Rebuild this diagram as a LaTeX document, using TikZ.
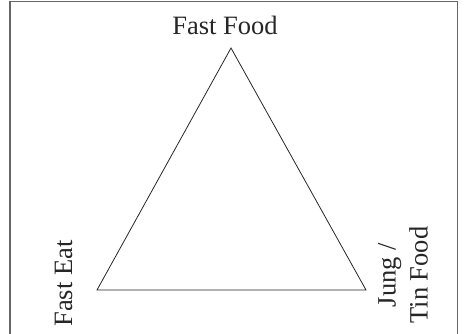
\documentclass[tikz,border=0pt]{standalone}
\usepackage{fontspec}
\setmainfont{Liberation Serif}
\begin{document}
\begin{tikzpicture}[x=1pt,y=-1pt,
  lbl/.style={font=\fontsize{26.5}{32}\selectfont, inner sep=0pt, text=black!85},
  edge/.style={draw=black!85, line width=0.8pt}]
\useasboundingbox (0,0) rectangle (476,334);
\draw[draw=black!60, line width=1.2pt] (10,334) -- (10,1.5) -- (457.5,1.5) -- (457.5,334);
\coordinate (top) at (231,48);
\coordinate (bl) at (97,290);
\coordinate (br) at (366,290);
\draw[edge] (top) -- (bl) -- (br) -- cycle;
\node[lbl, anchor=base] (ff) at (225,35) {Fast Food};
\node[lbl, rotate=90, anchor=base] (fe) at (72,283.5) {Fast Eat};
\node[lbl, rotate=90, align=center, anchor=center] (jt) at (403,275) {Jung /\\Tin Food};
\end{tikzpicture}
\end{document}
